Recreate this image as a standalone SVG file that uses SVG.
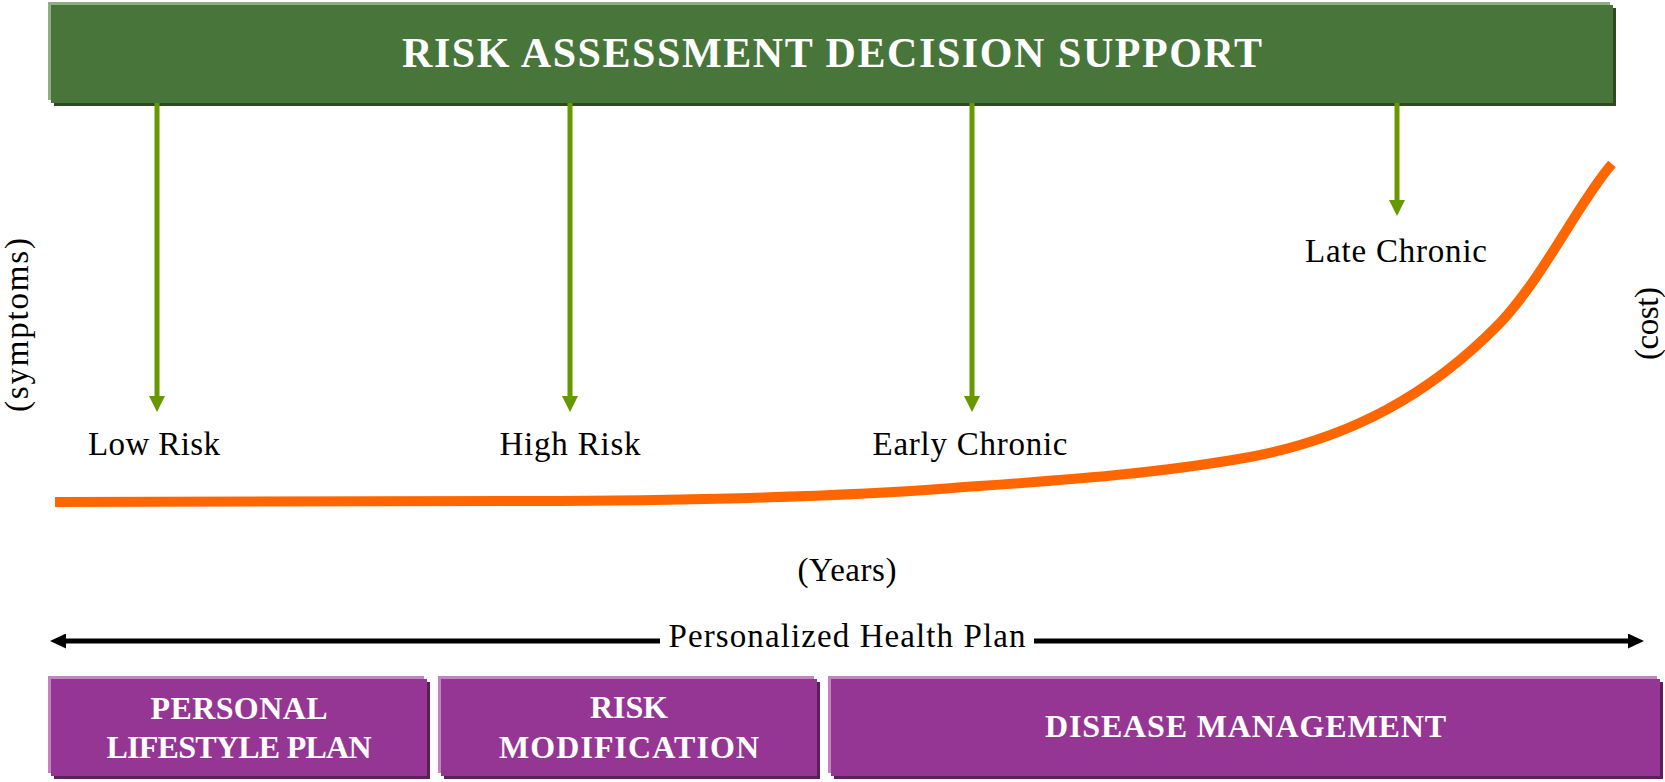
<svg xmlns="http://www.w3.org/2000/svg" width="1665" height="782" viewBox="0 0 1665 782">
<style>
  text { font-family: "Liberation Serif", "Times New Roman", serif; }
  .lbl { font-size: 33px; fill: #000; }
  .hdr { font-size: 42px; font-weight: bold; fill: #fff; }
  .btx { font-size: 32px; font-weight: bold; fill: #fff; }
  .g-hi { fill: #8fae83; }
  .g-main { fill: #48753a; }
  .g-sh { fill: #2d4a20; }
  .p-hi { fill: #c283c0; }
  .p-main { fill: #963694; }
  .p-sh { fill: #5c1f5a; }
  .garrow { stroke: #669900; stroke-width: 5; fill: none; marker-end: url(#gh); }
  .karrow { stroke: #000; stroke-width: 5; fill: none; marker-end: url(#kh); }
</style>
<defs>
  <marker id="gh" viewBox="0 0 16 16" markerWidth="16" markerHeight="16" markerUnits="userSpaceOnUse" refX="0" refY="8" orient="auto">
    <path d="M0,0 L16,8 L0,16 z" fill="#669900"/>
  </marker>
  <marker id="kh" viewBox="0 0 16 15" markerWidth="16" markerHeight="15" markerUnits="userSpaceOnUse" refX="0" refY="7.5" orient="auto">
    <path d="M0,0 L16,7.5 L0,15 z" fill="#000"/>
  </marker>
</defs>
<rect width="1665" height="782" fill="#fff"/>

<g id="banner">
  <rect class="g-sh" x="54" y="8" width="1562" height="98"/>
  <rect class="g-hi" x="48" y="2" width="1562" height="98"/>
  <rect class="g-main" x="51" y="5" width="1562" height="98"/>
  <text class="hdr" x="832" y="67" text-anchor="middle" textLength="860">RISK ASSESSMENT DECISION SUPPORT</text>
</g>

<g id="curve">
  <path d="M55,502 L560,501 C700,500 850,496 953,488 C1050,481 1150,475 1250,457 C1350,438 1430,395 1500,323 C1545,275 1580,200 1612,164" fill="none" stroke="#ff6600" stroke-width="10"/>
</g>

<g id="connectors">
  <line class="garrow" x1="157" y1="103" x2="157" y2="396"/>
  <line class="garrow" x1="570" y1="103" x2="570" y2="396"/>
  <line class="garrow" x1="972" y1="103" x2="972" y2="396"/>
  <line class="garrow" x1="1397" y1="103" x2="1397" y2="200"/>
  <line class="karrow" x1="660" y1="641" x2="66" y2="641"/>
  <line class="karrow" x1="1034" y1="641" x2="1628" y2="641"/>
</g>

<g id="low-risk"><text class="lbl" x="154" y="455" text-anchor="middle" textLength="132">Low Risk</text></g>
<g id="high-risk"><text class="lbl" x="570" y="455" text-anchor="middle" textLength="141">High Risk</text></g>
<g id="early-chronic"><text class="lbl" x="970" y="455" text-anchor="middle" textLength="195">Early Chronic</text></g>
<g id="late-chronic"><text class="lbl" x="1396" y="262" text-anchor="middle" textLength="182">Late Chronic</text></g>

<g id="symptoms-axis"><text class="lbl" transform="translate(28,325) rotate(-90)" text-anchor="middle" textLength="174">(symptoms)</text></g>
<g id="cost-axis"><text class="lbl" transform="translate(1658,323.5) rotate(-90)" text-anchor="middle" textLength="73">(cost)</text></g>
<g id="years-axis"><text class="lbl" x="847" y="581" text-anchor="middle" textLength="99">(Years)</text></g>
<g id="health-plan"><text class="lbl" x="847" y="647" text-anchor="middle" textLength="357">Personalized Health Plan</text></g>

<g id="personal-lifestyle-plan">
  <rect class="p-sh" x="54" y="682" width="376" height="97"/>
  <rect class="p-hi" x="48" y="676" width="376" height="97"/>
  <rect class="p-main" x="51" y="679" width="376" height="97"/>
  <text class="btx" x="239" y="719" text-anchor="middle" textLength="177">PERSONAL</text>
  <text class="btx" x="239" y="758" text-anchor="middle" textLength="265">LIFESTYLE PLAN</text>
</g>
<g id="risk-modification">
  <rect class="p-sh" x="444" y="682" width="376" height="97"/>
  <rect class="p-hi" x="438" y="676" width="376" height="97"/>
  <rect class="p-main" x="441" y="679" width="376" height="97"/>
  <text class="btx" x="629" y="718" text-anchor="middle" textLength="78">RISK</text>
  <text class="btx" x="629" y="758" text-anchor="middle" textLength="260">MODIFICATION</text>
</g>
<g id="disease-management">
  <rect class="p-sh" x="834" y="682" width="829" height="97"/>
  <rect class="p-hi" x="828" y="676" width="829" height="97"/>
  <rect class="p-main" x="831" y="679" width="829" height="97"/>
  <text class="btx" x="1245.5" y="737" text-anchor="middle" textLength="401">DISEASE MANAGEMENT</text>
</g>
</svg>
